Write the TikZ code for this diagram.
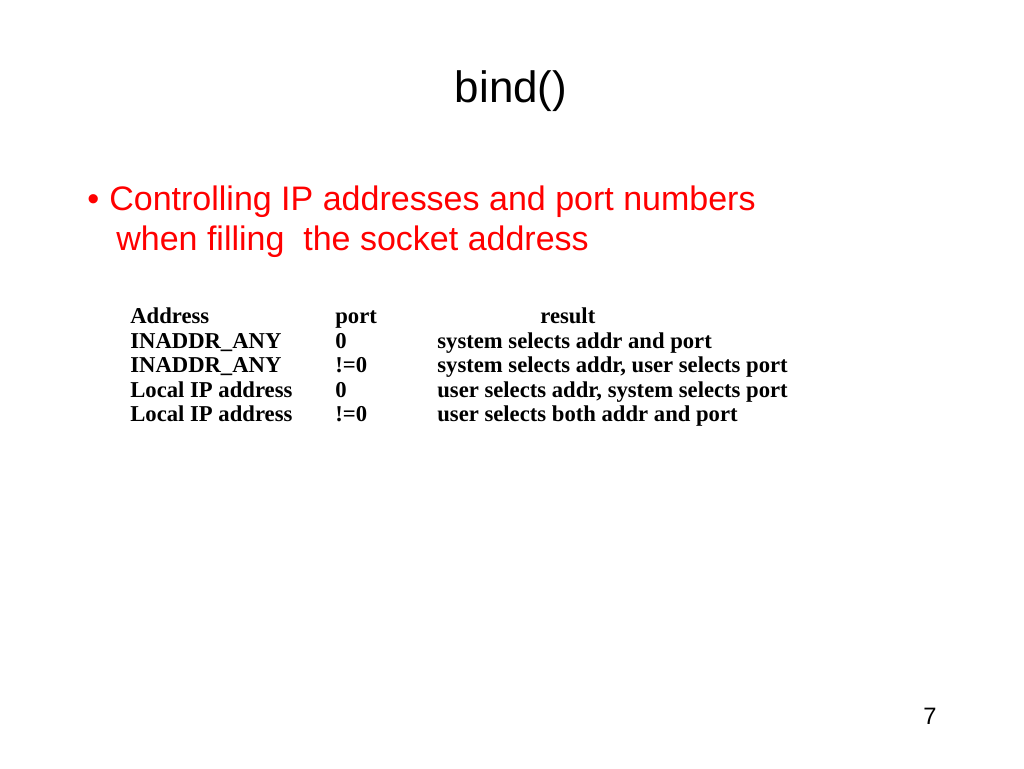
\documentclass[tikz,border=0pt]{standalone}
\usepackage{fontspec}
\setmainfont{Liberation Sans}
\newfontfamily\tabfont{Liberation Serif}
\begin{document}
\begin{tikzpicture}[x=0.02cm, y=-0.02cm,
    slidetext/.style={anchor=base west, inner sep=0pt, text=red, font=\fontsize{19.35}{24}\selectfont},
    cell/.style={anchor=base west, inner sep=0pt, font=\tabfont\bfseries\fontsize{12.9}{14}\selectfont}]
    \useasboundingbox (0,0) rectangle (1024,768);
    \node [anchor=base, inner sep=0pt, font=\fontsize{25}{28}\selectfont] (title) at (511,102) {bind()};
    \node [slidetext] (bul) at (87,210) {\textbullet};
    \node [slidetext] (line1) at (109,210) {Controlling IP addresses and port numbers};
    \node [slidetext] (line2) at (116,250) {when filling\ \ the socket address};
    % table
    \node [cell] (h1) at (130,323) {Address};
    \node [cell] (h2) at (335,323) {port};
    \node [cell] (h3) at (540,323) {result};
    \node [cell] (a1) at (130,348) {INADDR\_ANY};
    \node [cell] (p1) at (335,348) {0};
    \node [cell] (r1) at (437,348) {system selects addr and port};
    \node [cell] (a2) at (130,372) {INADDR\_ANY};
    \node [cell] (p2) at (335,372) {!=0};
    \node [cell] (r2) at (437,372) {system selects addr, user selects port};
    \node [cell] (a3) at (130,397) {Local IP address};
    \node [cell] (p3) at (335,397) {0};
    \node [cell] (r3) at (437,397) {user selects addr, system selects port};
    \node [cell] (a4) at (130,421) {Local IP address};
    \node [cell] (p4) at (335,421) {!=0};
    \node [cell] (r4) at (437,421) {user selects both addr and port};
    \node [anchor=base east, inner sep=0pt, font=\fontsize{13.5}{16}\selectfont] (pg) at (937,724) {7};
\end{tikzpicture}
\end{document}
